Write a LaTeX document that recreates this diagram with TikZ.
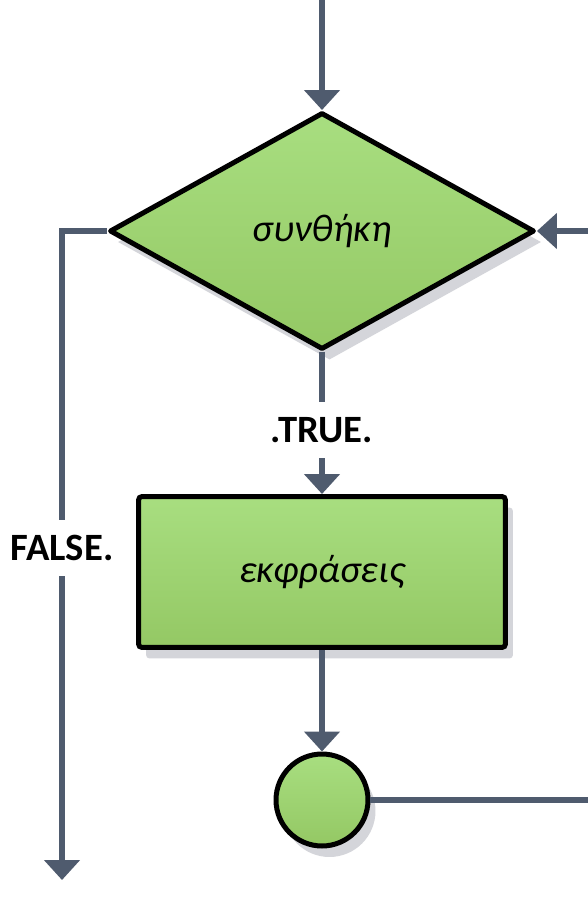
\documentclass[tikz,border=0pt]{standalone}
\usepackage{fontspec}
\setmainfont{Carlito}
\usetikzlibrary{shapes.geometric,arrows.meta,shadows}

\definecolor{flowline}{RGB}{79,91,110}
\definecolor{boxtop}{RGB}{168,222,128}
\definecolor{boxbot}{RGB}{148,200,100}
\definecolor{boxshade}{RGB}{212,213,218}

\tikzset{
  block/.style={draw=black,line width=0.1cm,top color=boxtop,bottom color=boxbot,
    drop shadow={shadow xshift=0.15cm,shadow yshift=-0.22cm,fill=boxshade,opacity=1},
    font=\fontsize{22}{26}\selectfont\itshape},
  flow/.style={draw=flowline,line width=0.12cm,-{Triangle[width=0.7cm,length=0.4cm]}},
  lbl/.style={fill=white,inner sep=0.3cm,font=\fontsize{22}{26}\selectfont\bfseries}
}

\begin{document}
\begin{tikzpicture}[x=0.02cm,y=-0.02cm]
  \clip (0,0) rectangle (588,906);
  \node[block,diamond,aspect=1.78,minimum width=8.5cm,minimum height=4.74cm,
    inner sep=0pt,line join=round] (cond) at (322,231) {συνθήκη};
  \node[block,rectangle,rounded corners=2pt,minimum width=7.34cm,minimum height=3.02cm] (body) at (322,572) {εκφράσεις};
  \node[block,circle,minimum size=1.84cm,inner sep=0pt] (join) at (322,800) {};
  \coordinate (start) at (322,-10);
  \coordinate (exit) at (62,880);
  \coordinate (loop) at (592,800);
  \draw[flow] (start) -- (cond);
  \draw[flow] (cond) -- node[lbl,pos=0.55] {.TRUE.} (body);
  \draw[flow] (body) -- (join);
  \draw[flow] (cond.west) -| node[lbl,pos=0.744] {FALSE.} (exit);
  \draw[flow] (join.east) -- (loop) |- (cond.east);
\end{tikzpicture}
\end{document}
